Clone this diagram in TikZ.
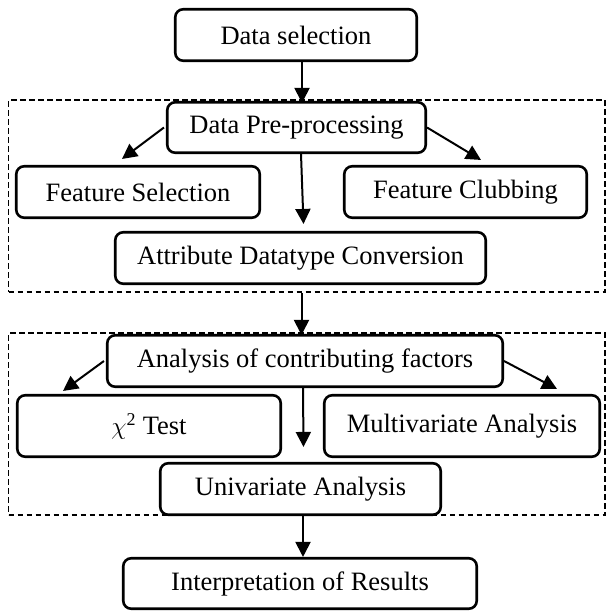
\documentclass[tikz,border=0pt]{standalone}
\usepackage{fontspec}
\setmainfont{Liberation Serif}
\usetikzlibrary{arrows.meta}
\begin{document}
\begin{tikzpicture}[x=1pt,y=-1pt,
  box/.style={draw, line width=2.6pt, rounded corners=8pt, inner sep=0pt,
    font=\fontsize{26.5}{30}\selectfont, anchor=center},
  group/.style={draw, dashed, dash pattern=on 5.5pt off 3.5pt, line width=1.8pt,
    inner sep=0pt, anchor=center},
  arr/.style={line width=2pt, -{Triangle[length=15pt,width=15pt]}}]
\useasboundingbox (0,0) rectangle (606,611);
% groups
\node[group, minimum width=596.5pt, minimum height=192pt] (g1) at (306.75,196) {};
\node[group, minimum width=596.5pt, minimum height=182pt] (g2) at (306.75,424) {};
% boxes
\node[box, minimum width=241.5pt, minimum height=51.5pt] (ds) at (296,35) {Data selection};
\node[box, minimum width=258.5pt, minimum height=50.5pt, fill=white] (dpp) at (296.5,127.5) {Data Pre-processing};
\node[box, minimum width=243.5pt, minimum height=51.5pt] (fs) at (138,192) {Feature Selection};
\node[box, minimum width=242.5pt, minimum height=51.5pt] (fc) at (465.5,192) {Feature Clubbing};
\node[box, minimum width=370.5pt, minimum height=51.5pt, fill=white] (adc) at (300.5,258) {Attribute Datatype Conversion};
\node[box, minimum width=395.5pt, minimum height=51.5pt, fill=white] (aoc) at (305,361) {Analysis of contributing factors};
\node[box, minimum width=263.5pt, minimum height=61.5pt] (chi) at (149,426) {$\chi^{\mbox{\fontsize{18}{18}\selectfont 2}}$ Test};
\node[box, minimum width=275.5pt, minimum height=61.5pt] (mv) at (462,426) {Multivariate Analysis};
\node[box, minimum width=280.5pt, minimum height=51.5pt, fill=white] (uv) at (300.5,489) {Univariate Analysis};
\node[box, minimum width=353.5pt, minimum height=50.5pt] (ir) at (300,583.5) {Interpretation of Results};
% connectors
\draw[arr] ([xshift=6pt]ds.south) -- ([shift={(5.5pt,-2pt)}]dpp.north);
\draw[arr] ([xshift=-2pt]dpp.west) -- ([shift={(-16pt,6pt)}]fs.north);
\draw[arr] (dpp.east) -- ([shift={(15.5pt,5pt)}]fc.north);
\draw[arr] ([xshift=4.5pt]dpp.south) -- ([shift={(3pt,7pt)}]adc.north);
\coordinate (atop) at ([shift={(-3.5pt,-1pt)}]aoc.north);
\draw[arr] (g1.south -| atop) -- (atop);
\draw[arr] ([xshift=-2pt]aoc.west) -- ([shift={(-86pt,3pt)}]chi.north);
\draw[arr] (aoc.east) -- ([shift={(95pt,5pt)}]mv.north);
\draw[arr] ([xshift=-2pt]aoc.south) -- ([shift={(3pt,15pt)}]uv.north);
\draw[arr] ([xshift=2.5pt]uv.south) -- ([xshift=3pt]ir.north);
\end{tikzpicture}
\end{document}
